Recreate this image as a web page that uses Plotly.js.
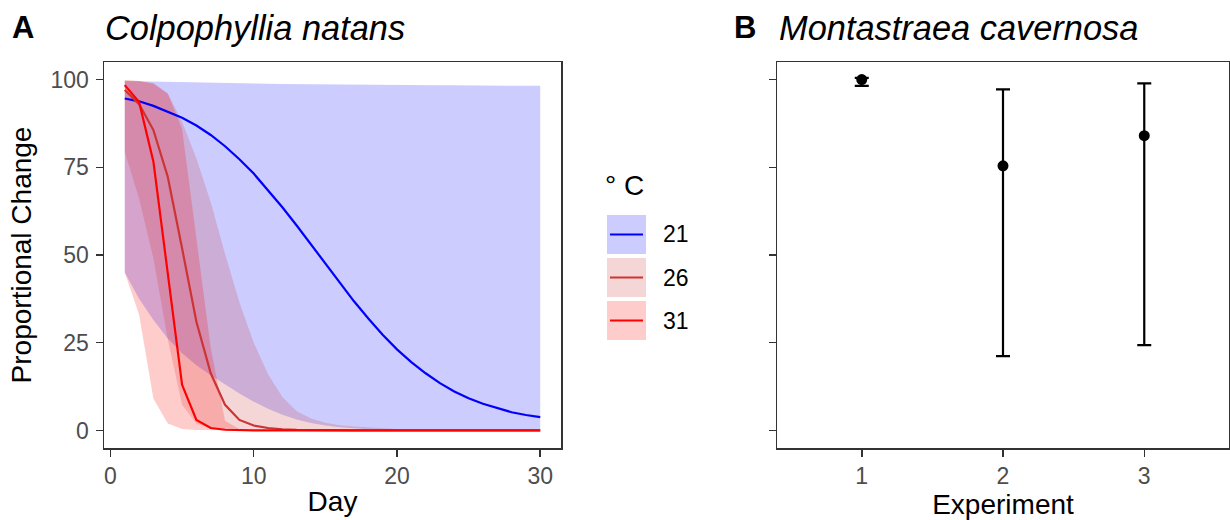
<!DOCTYPE html>
<html>
<head>
<meta charset="utf-8">
<script src="https://cdn.plot.ly/plotly-3.0.1.min.js"></script>
<style>html,body{margin:0;padding:0;background:#fff;}#chart{width:1230px;height:520px;}</style>
</head>
<body>
<div id="chart"></div>
<script>
// ---------- Data ----------
const days = [1,2,3,4,5,6,7,8,9,10,11,12,13,14,15,16,17,18,19,20,21,22,23,24,25,26,27,28,29,30];

// 21 °C
const fit21 = [94.6,93.8,92.5,90.9,89.1,86.9,84.2,81.0,77.3,73.2,68.5,63.6,58.4,53.0,47.5,42.0,36.8,31.9,27.3,23.1,19.5,16.3,13.5,11.1,9.2,7.6,6.3,5.2,4.4,3.8];
const lo21  = [45.0,37.5,31.5,26.2,22.0,18.6,15.7,13.1,10.5,8.2,6.2,4.5,3.1,2.1,1.4,0.9,0.55,0.35,0.2,0.12,0.08,0.05,0.03,0.02,0.01,0.01,0,0,0,0];
const hi21  = [99.6,99.5,99.4,99.3,99.2,99.1,99.0,98.95,98.9,98.85,98.8,98.75,98.7,98.65,98.6,98.55,98.5,98.5,98.45,98.45,98.4,98.4,98.35,98.35,98.3,98.3,98.25,98.25,98.2,98.2];

// 26 °C
const fit26 = [97.0,93.0,85.6,72.3,51.9,31.0,16.3,7.3,3.0,1.4,0.7,0.3,0.15,0.07,0.03,0.02,0.01,0,0,0,0,0,0,0,0,0,0,0,0,0];
const lo26  = [79.4,66.0,49.0,26.0,7.3,2.0,0.6,0.2,0.07,0.02,0.01,0,0,0,0,0,0,0,0,0,0,0,0,0,0,0,0,0,0,0];
const hi26  = [99.8,99.6,99.0,96.0,88.0,77.5,65.0,50.3,36.5,25.0,16.0,9.5,5.5,3.4,2.2,1.5,1.1,0.8,0.55,0.4,0.3,0.2,0.15,0.1,0.08,0.06,0.05,0.04,0.03,0.02];

// 31 °C
const fit31 = [98.4,93.6,76.6,44.8,13.0,3.0,0.7,0.2,0.05,0.01,0,0,0,0,0,0,0,0,0,0,0,0,0,0,0,0,0,0,0,0];
const lo31  = [45.0,33.0,9.0,2.0,0.4,0.1,0.03,0.01,0,0,0,0,0,0,0,0,0,0,0,0,0,0,0,0,0,0,0,0,0,0];
const hi31  = [99.8,99.6,98.8,96.0,86.0,55.0,23.5,2.8,0.4,0.1,0.03,0,0,0,0,0,0,0,0,0,0,0,0,0,0,0,0,0,0,0];

const tempLabels = ['21','26','31'];
const dayTicks = [0,10,20,30];
const pcTicks = [0,25,50,75,100];

// Panel B
const experiments = [1,2,3];
const expLabels = ['1','2','3'];
const mcavMean = [100.0,75.4,84.0];
const mcavLo   = [98.2,21.2,24.3];
const mcavHi   = [100.5,97.2,98.9];

// ---------- Styling ----------
const W = 1230, H = 520;
const px = x => x / W;
const py = y => 1 - y / H;
const FONT = 'Liberation Sans, Arial, Helvetica, sans-serif';
const lineCols = ['#0000FF', '#CD3333', '#FF0000'];
const fillCols = ['rgba(0,0,255,0.2)', 'rgba(205,51,51,0.2)', 'rgba(255,0,0,0.2)'];

const fits = [fit21, fit26, fit31];
const los = [lo21, lo26, lo31];
const his = [hi21, hi26, hi31];

const traces = [];
for (let i = 0; i < 3; i++) {
  traces.push({
    type: 'scatter', mode: 'lines', xaxis: 'x', yaxis: 'y',
    x: days.concat(days.slice().reverse()),
    y: his[i].concat(los[i].slice().reverse()),
    fill: 'toself', fillcolor: fillCols[i],
    line: {width: 0, color: 'rgba(0,0,0,0)'},
    hoverinfo: 'skip', showlegend: false, name: tempLabels[i] + ' band'
  });
}
for (let i = 0; i < 3; i++) {
  traces.push({
    type: 'scatter', mode: 'lines', xaxis: 'x', yaxis: 'y',
    x: days, y: fits[i], name: tempLabels[i],
    line: {color: lineCols[i], width: 2.2},
    showlegend: false
  });
}
traces.push({
  type: 'scatter', mode: 'markers', xaxis: 'x2', yaxis: 'y2',
  x: experiments, y: mcavMean,
  marker: {color: '#000', size: 11},
  error_y: {
    type: 'data', symmetric: false,
    array: mcavHi.map((v, i) => v - mcavMean[i]),
    arrayminus: mcavMean.map((v, i) => v - mcavLo[i]),
    color: '#000', thickness: 2.2, width: 7
  },
  showlegend: false, name: 'Montastraea cavernosa'
});

const axisCommon = {
  showgrid: false, zeroline: false, showline: true, mirror: true,
  linecolor: '#333333', linewidth: 1.5,
  ticks: 'outside', ticklen: 7, tickwidth: 1.5, tickcolor: '#333333',
  tickfont: {family: FONT, size: 23, color: '#4D4D4D'}
};

const yDom = [py(448), py(62)];
const layout = {
  width: W, height: H,
  margin: {l: 0, r: 0, t: 0, b: 0},
  paper_bgcolor: '#fff', plot_bgcolor: '#fff',
  showlegend: false,
  font: {family: FONT},
  xaxis: Object.assign({}, axisCommon, {
    domain: [px(104), px(561)], range: [-0.45, 31.45],
    tickvals: dayTicks, ticktext: dayTicks.map(String), anchor: 'y',
    title: {text: 'Day', font: {family: FONT, size: 28, color: '#000'}, standoff: 3}
  }),
  yaxis: Object.assign({}, axisCommon, {
    domain: yDom, range: [-5, 105], anchor: 'x',
    tickvals: pcTicks, ticktext: pcTicks.map(String), ticklabelstandoff: 2,
    title: {text: 'Proportional Change', font: {family: FONT, size: 28, color: '#000'}, standoff: 10}
  }),
  xaxis2: Object.assign({}, axisCommon, {
    domain: [px(777), px(1229)], range: [0.4, 3.6], anchor: 'y2',
    tickvals: experiments, ticktext: expLabels,
    title: {text: 'Experiment', font: {family: FONT, size: 28, color: '#000'}, standoff: 3}
  }),
  yaxis2: Object.assign({}, axisCommon, {
    domain: yDom, range: [-5, 105], anchor: 'x2',
    tickvals: pcTicks, showticklabels: false
  }),
  annotations: [
    {text: '<b>A</b>', x: px(10), y: py(27), xref: 'paper', yref: 'paper', xanchor: 'left', yanchor: 'middle', showarrow: false, font: {family: FONT, size: 31, color: '#000'}},
    {text: '<i>Colpophyllia natans</i>', x: px(103), y: py(28), xref: 'paper', yref: 'paper', xanchor: 'left', yanchor: 'middle', showarrow: false, font: {family: FONT, size: 34.4, color: '#000'}},
    {text: '<b>B</b>', x: px(732), y: py(27), xref: 'paper', yref: 'paper', xanchor: 'left', yanchor: 'middle', showarrow: false, font: {family: FONT, size: 31, color: '#000'}},
    {text: '<i>Montastraea cavernosa</i>', x: px(777), y: py(28), xref: 'paper', yref: 'paper', xanchor: 'left', yanchor: 'middle', showarrow: false, font: {family: FONT, size: 34.4, color: '#000'}},
    {text: '° C', x: px(603), y: py(185), xref: 'paper', yref: 'paper', xanchor: 'left', yanchor: 'middle', showarrow: false, font: {family: FONT, size: 28, color: '#000'}}
  ],
  shapes: []
};

// manual ggplot-style legend
const keyTop = [215, 258, 301];
for (let i = 0; i < 3; i++) {
  const t = keyTop[i], b = t + 39, c = (t + b) / 2;
  layout.shapes.push({type: 'rect', xref: 'paper', yref: 'paper', x0: px(607), x1: px(646), y0: py(b), y1: py(t), fillcolor: fillCols[i], line: {width: 0}});
  layout.shapes.push({type: 'line', xref: 'paper', yref: 'paper', x0: px(610), x1: px(643), y0: py(c), y1: py(c), line: {color: lineCols[i], width: 2.2}});
  layout.annotations.push({text: tempLabels[i], x: px(661), y: py(c), xref: 'paper', yref: 'paper', xanchor: 'left', yanchor: 'middle', showarrow: false, font: {family: FONT, size: 23, color: '#000'}});
}

Plotly.newPlot('chart', traces, layout, {displayModeBar: false, staticPlot: true});
</script>
</body>
</html>
